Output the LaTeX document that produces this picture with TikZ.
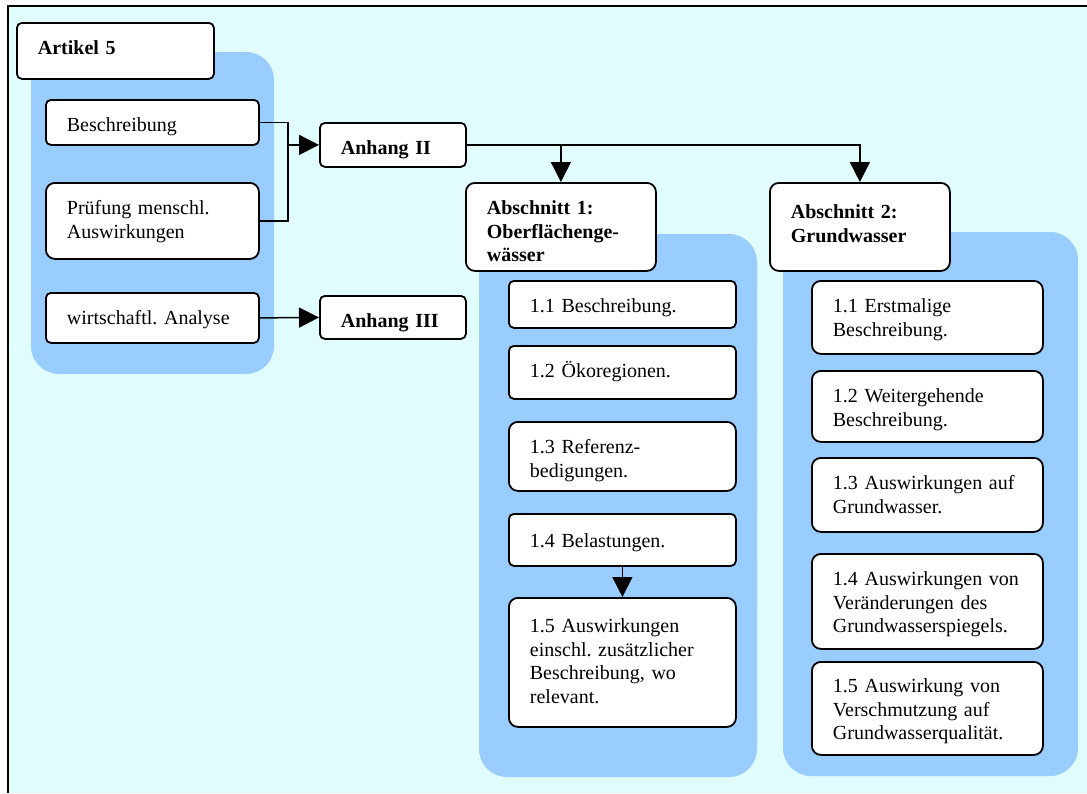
\documentclass[tikz,border=0pt]{standalone}
\usepackage{fontspec}
\setmainfont{Liberation Serif}
\usetikzlibrary{arrows.meta}
\definecolor{bgcyan}{HTML}{E0FCFC}
\definecolor{paleblue}{HTML}{99CCFF}
\frenchspacing

\begin{document}
\begin{tikzpicture}[x=0.5pt,y=-0.5pt,>={Triangle[length=10pt,width=10pt]},
  box/.style={draw,fill=white,line width=0.9pt,rounded corners=2.5pt,anchor=north west,
    align=left,inner xsep=10.5pt,inner ysep=0pt,text height=16pt,
    font=\fontsize{10}{11.7}\selectfont},
  bigbox/.style={box,rounded corners=4.5pt},
  panel/.style={fill=paleblue,rounded corners=14pt},
  link/.style={line width=0.75pt}]
  \useasboundingbox (0,0) rectangle (1087,793);
  \fill[bgcyan] (7.5,6) rectangle (1087,793);
  \draw[line width=1pt] (7.5,793) -- (7.5,6) -- (1087,6);
  \fill[panel] (31,52) rectangle (274,374);
  \fill[panel] (479,234) rectangle (757,777);
  \fill[panel] (783,232) rectangle (1078,776);

  \node[box,text width=77.5pt,text depth=12pt] (artikel) at (16,22) {\textbf{Artikel 5}};
  \node[box,text width=85.5pt,text depth=6.5pt] (beschr) at (45,99) {Beschreibung};
  \node[bigbox,text width=85.5pt,text depth=22pt] (pruefung) at (45,182) {Prüfung menschl.\\Auswirkungen};
  \node[box,text width=85.5pt,text depth=9pt] (analyse) at (45,292) {wirtschaftl. Analyse};
  \node[box,text width=52pt,text depth=6pt] (anh2) at (319,122) {\textbf{Anhang II}};
  \node[box,text width=52pt,text depth=5.5pt] (anh3) at (319,295) {\textbf{Anhang III}};

  \node[bigbox,text width=74pt,text depth=28pt] (abs1) at (465,182) {\bfseries Abschnitt 1:\\Oberflächenge-\\wässer};
  \node[bigbox,text width=69pt,text height=18pt,text depth=26pt] (abs2) at (769,182) {\bfseries Abschnitt 2:\\Grundwasser};

  \node[box,text width=92.5pt,text depth=7.5pt] (o11) at (508,280) {1.1 Beschreibung.};
  \node[box,text width=92.5pt,text depth=10.5pt] (o12) at (508,345) {1.2 Ökoregionen.};
  \node[bigbox,text width=92.5pt,text depth=18.5pt] (o13) at (508,421) {1.3 Referenz-\\bedigungen.};
  \node[box,text width=92.5pt,text height=17pt,text depth=9pt] (o14) at (508,513) {1.4 Belastungen.};
  \node[bigbox,text width=92.5pt,text height=17.5pt,text depth=47pt] (o15) at (508,597) {1.5 Auswirkungen\\einschl. zusätzlicher\\Beschreibung, wo\\relevant.};

  \node[bigbox,text width=94.5pt,text depth=20.5pt] (g11) at (811,280) {1.1 Erstmalige\\Beschreibung.};
  \node[bigbox,text width=94.5pt,text depth=19.5pt] (g12) at (811,370) {1.2 Weitergehende\\Beschreibung.};
  \node[bigbox,text width=94.5pt,text depth=21pt] (g13) at (811,457) {1.3 Auswirkungen auf\\Grundwasser.};
  \node[bigbox,text width=94.5pt,text depth=31.5pt] (g14) at (811,553) {1.4 Auswirkungen von\\Veränderungen des\\Grundwasserspiegels.};
  \node[bigbox,text width=94.5pt,text height=15.5pt,text depth=31pt] (g15) at (811,661) {1.5 Auswirkung von\\Verschmutzung auf\\Grundwasserqualität.};

  \coordinate (joint) at ([xshift=-15.5pt]anh2.west);
  \draw[link] (beschr.east) -| (joint) |- (pruefung.east);
  \draw[link,->] (joint) -- (anh2.west);
  \draw[link,->] (analyse.east) -- (anh3.west);
  \draw[link,->] (anh2.east) -| (abs1.north);
  \draw[link,->] (anh2.east) -| (abs2.north);
  \draw[link,->] (o14.south) -- (o15.north);
\end{tikzpicture}
\end{document}
